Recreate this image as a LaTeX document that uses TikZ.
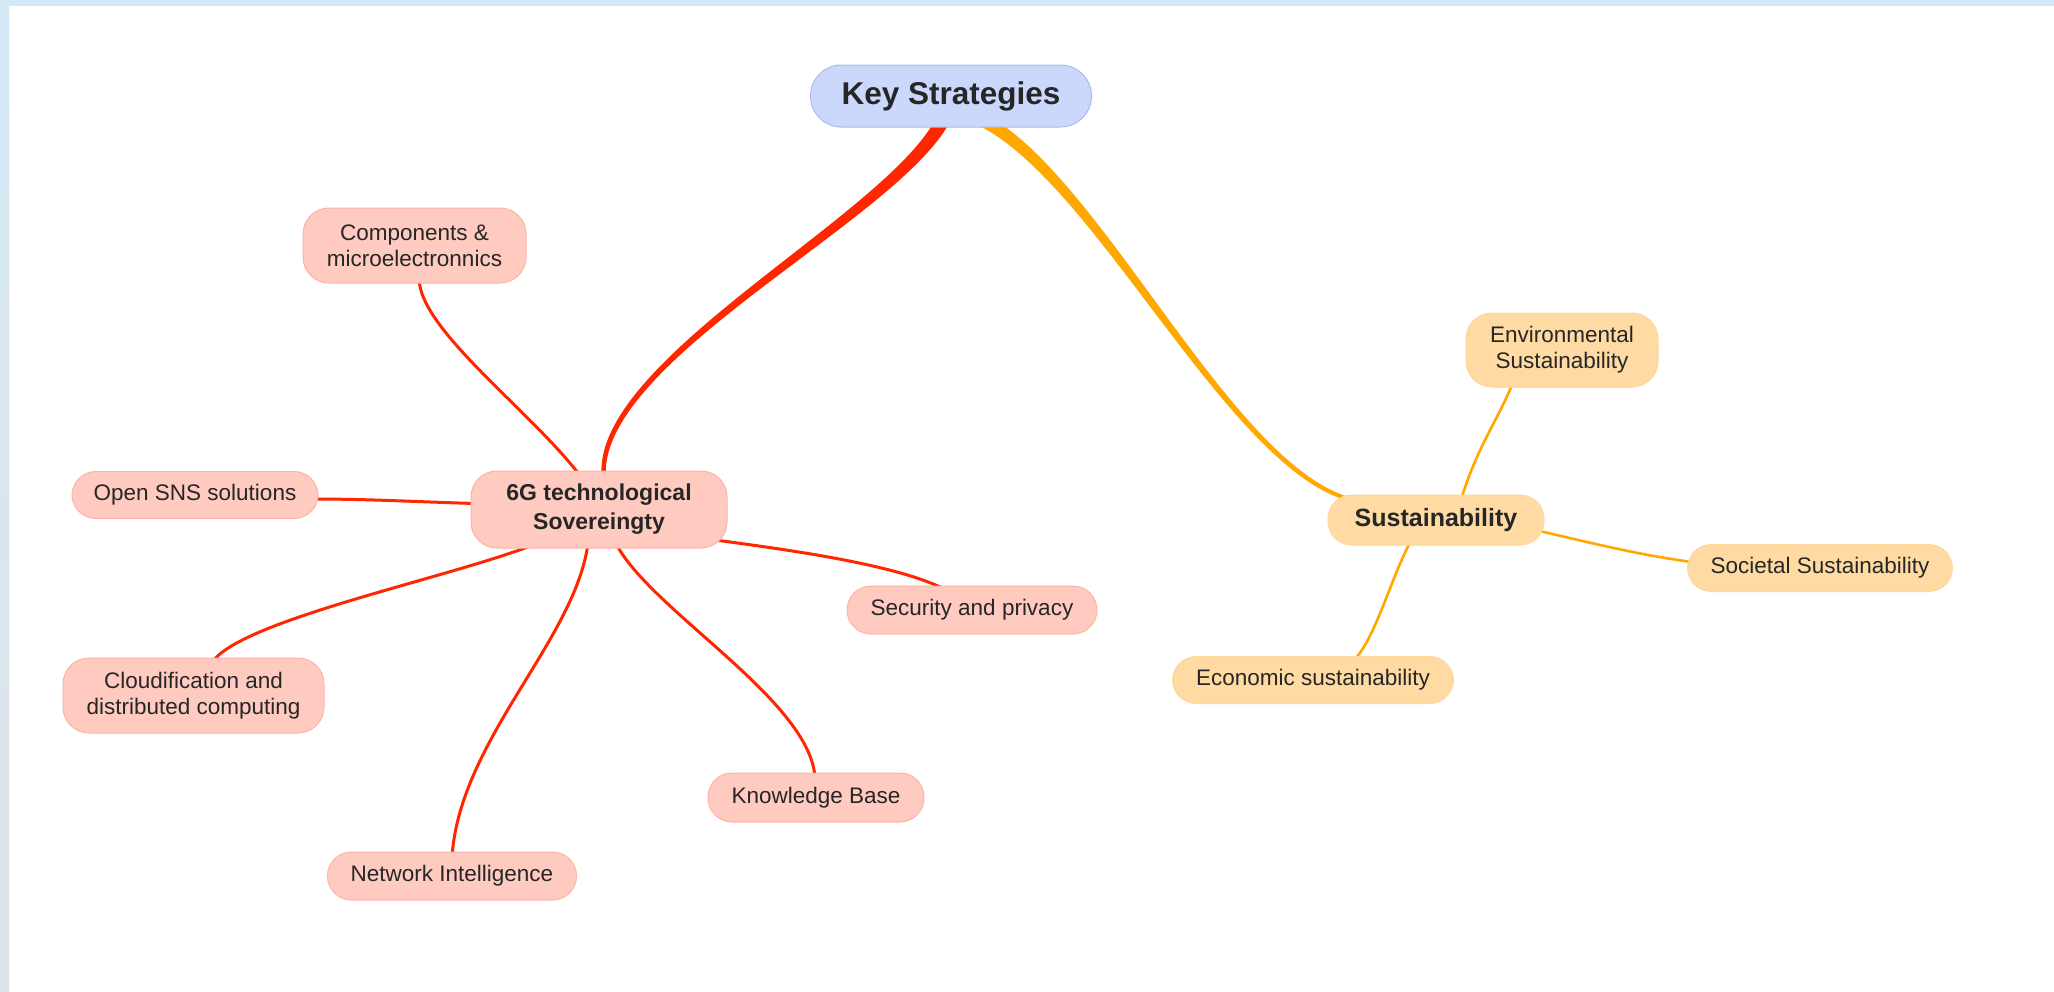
\documentclass[tikz,border=0pt]{standalone}
\usepackage{fontspec}
\setmainfont{Liberation Sans}
\usetikzlibrary{calc,backgrounds}

\definecolor{ink}{HTML}{262626}
\definecolor{ksfill}{HTML}{CCD7FC}
\definecolor{ksdraw}{HTML}{A8B9F6}
\definecolor{redfill}{HTML}{FFCBC1}
\definecolor{reddraw}{HTML}{FFB2A5}
\definecolor{orfill}{HTML}{FFDBA3}
\definecolor{ordraw}{HTML}{FFD59A}
\definecolor{redline}{HTML}{FF2600}
\definecolor{orline}{HTML}{FFA800}
\definecolor{bandtop}{HTML}{D5E8F5}
\definecolor{bandmid}{HTML}{E4F1FB}
\definecolor{bandbot}{HTML}{DDE3E8}

\tikzset{
  box/.style={rectangle, line width=1pt, inner sep=0pt, align=center, text=ink},
  rootbox/.style={box, draw=ksdraw, fill=ksfill, rounded corners=31pt,
    font=\fontsize{31.5}{36}\selectfont\bfseries},
  redhub/.style={box, draw=reddraw, fill=redfill, rounded corners=26pt,
    font=\fontsize{23}{29}\selectfont\bfseries},
  orhub/.style={box, draw=ordraw, fill=orfill, rounded corners=24pt,
    font=\fontsize{25}{29}\selectfont\bfseries},
  redleaf/.style={box, draw=reddraw, fill=redfill, rounded corners=24pt,
    font=\fontsize{22.5}{26}\selectfont},
  orleaf/.style={box, draw=ordraw, fill=orfill, rounded corners=24pt,
    font=\fontsize{22.5}{26}\selectfont},
  redlink/.style={draw=redline, line width=3pt},
  orlink/.style={draw=orline, line width=2.6pt},
}

\begin{document}
\begin{tikzpicture}[x=1pt,y=-1pt]
  \useasboundingbox (0,0) rectangle (2054,991);

  % nodes
  \node[rootbox, minimum width=281pt, minimum height=62pt] (ks) at (951,96) {Key Strategies};

  \node[redhub, minimum width=256pt, minimum height=77pt] (sov) at (599,509.5) {6G technological\\Sovereingty};
  \node[redleaf, rounded corners=26pt, minimum width=223pt, minimum height=75pt] (comp) at (414.5,245.5) {Components \&\\microelectronnics};
  \node[redleaf, minimum width=246pt, minimum height=47pt] (open) at (195,495) {Open SNS solutions};
  \node[redleaf, rounded corners=26pt, minimum width=261pt, minimum height=75pt] (cloud) at (193.5,695.5) {Cloudification and\\distributed computing};
  \node[redleaf, minimum width=249pt, minimum height=48pt] (net) at (452,876) {Network Intelligence};
  \node[redleaf, minimum width=216pt, minimum height=49pt] (know) at (816,797.5) {Knowledge Base};
  \node[redleaf, minimum width=250pt, minimum height=48pt] (sec) at (972,610) {Security and privacy};

  \node[orhub, minimum width=216pt, minimum height=50pt] (sus) at (1436,520) {Sustainability};
  \node[orleaf, rounded corners=26pt, minimum width=192pt, minimum height=74pt] (env) at (1562,350) {Environmental\\Sustainability};
  \node[orleaf, minimum width=265pt, minimum height=47pt] (soc) at (1820,568) {Societal Sustainability};
  \node[orleaf, minimum width=281pt, minimum height=47pt] (eco) at (1313,680) {Economic sustainability};

  \begin{scope}[on background layer]
    % canvas and window edges
    \fill[white] (0,0) rectangle (2054,991);
    \fill[bandtop] (0,0) rectangle (2054,6);
    \shade[top color=bandtop, middle color=bandmid, bottom color=bandbot] (0,0) rectangle (9,991);

    % tapered main branches
    \coordinate (r0) at ($(ks.south)+(-5,-14)$);
    \coordinate (r3) at ($(sov.north)+(5,9)$);
    \fill[redline] ($(r0)+(6.4,2.9)$) .. controls (910,215) and (594,360) .. ($(r3)+(2,-0.2)$)
      -- ($(r3)+(-2,0.2)$) .. controls (586,360) and (900,210) .. ($(r0)+(-6.4,-2.9)$) -- cycle;

    \coordinate (o0) at ($(ks.south)+(32,-7)$);
    \coordinate (o3) at ($(sus.west)+(25,-20)$);
    \fill[orline] ($(o0)+(-2.9,5.8)$) .. controls (1098,186) and (1230,473) .. ($(o3)+(-0.5,1.9)$)
      -- ($(o3)+(0.5,-1.9)$) .. controls (1232,468) and (1102,176) .. ($(o0)+(2.9,-5.8)$) -- cycle;

    % red sub-branches
    \draw[redlink] ($(sov.north)+(-19,5)$) .. controls (530,410) and (420,330) .. ($(comp.south)+(4.5,-5)$);
    \draw[redlink] ($(sov.west)+(5,-6)$) .. controls (420,502) and (370,499) .. ($(open.east)+(-5,4)$);
    \draw[redlink] ($(sov.south)+(-62,-5)$) .. controls (450,578) and (240,620) .. ($(cloud.north)+(18.5,5)$);
    \draw[redlink] ($(sov.south)+(-11,-5)$) .. controls (575,640) and (460,740) .. ($(net.north)+(0,5)$);
    \draw[redlink] ($(sov.south)+(17,-5)$) .. controls (650,610) and (810,700) .. ($(know.north)+(-1,5)$);
    \draw[redlink] ($(sov.east)+(-16,30)$) .. controls (790,550) and (900,565) .. ($(sec.north)+(-25,5)$);

    % orange sub-branches
    \draw[orlink] ($(sus.north)+(25,5)$) .. controls (1478,445) and (1498,420) .. ($(env.south)+(-49,-5)$);
    \draw[orlink] ($(sus.east)+(-5,11)$) .. controls (1600,545) and (1640,555) .. ($(soc.west)+(5,-6)$);
    \draw[orlink] ($(sus.south)+(-25,-5)$) .. controls (1390,580) and (1375,640) .. ($(eco.north)+(40,5)$);
  \end{scope}
\end{tikzpicture}
\end{document}
